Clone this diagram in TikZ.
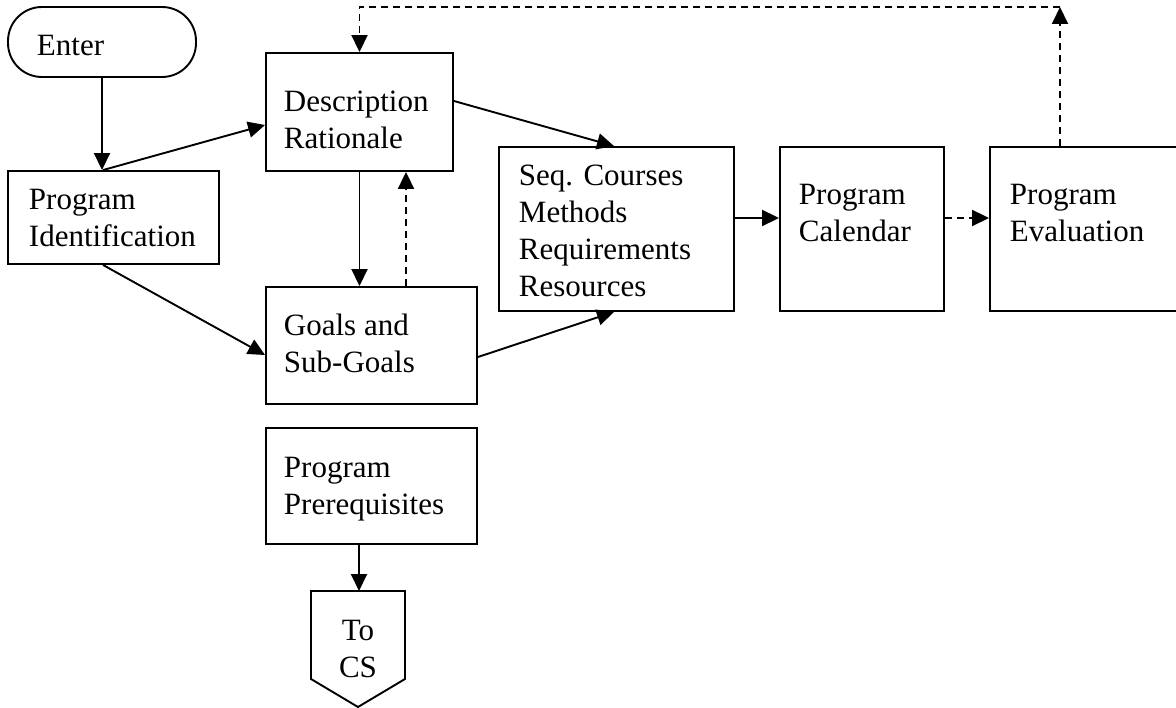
\documentclass[tikz,border=0pt]{standalone}
\usepackage{fontspec}
\setmainfont{Liberation Serif}
\usetikzlibrary{arrows.meta}
\begin{document}
\begin{tikzpicture}[x=1pt,y=-1pt,
  line width=1.9pt,
  >={Triangle[length=17pt,width=16pt]},
  box/.style={draw,rectangle,inner sep=0pt},
  txt/.style={anchor=north west,inner sep=0pt,align=left,font=\fontsize{31}{37}\selectfont},
  dsh/.style={dash pattern=on 7pt off 5pt}]
\useasboundingbox (0,0) rectangle (1176,708);
% boxes
\node[box,rounded corners=34pt,minimum width=188pt,minimum height=70pt] (enter) at (102,42) {};
\node[box,minimum width=211pt,minimum height=93pt] (pi) at (113.5,217.5) {};
\node[box,minimum width=187pt,minimum height=118pt] (dr) at (359.5,112) {};
\node[box,minimum width=211pt,minimum height=117pt] (goals) at (371.5,345.5) {};
\node[box,minimum width=235pt,minimum height=164pt] (seq) at (616.5,229) {};
\node[box,minimum width=164pt,minimum height=164pt] (cal) at (862,229) {};
\node[box,minimum width=188pt,minimum height=164pt] (eval) at (1084,229) {};
\node[box,minimum width=211pt,minimum height=116pt] (pre) at (371.5,486) {};
\draw (311,591) -- (405,591) -- (405,679) -- (358,707) -- (311,679) -- cycle;
\coordinate (tocs) at (359,591);
% texts
\node[txt] (tenter) at (36,30) {\rule{0pt}{25pt}Enter};
\node[txt] (tpi) at (28,184) {\rule{0pt}{25pt}Program\\Identification};
\node[txt] (tdr) at (283,86) {\rule{0pt}{25pt}Description\\Rationale};
\node[txt] (tgoals) at (283,310) {\rule{0pt}{25pt}Goals and\\Sub-Goals};
\node[txt] (tseq) at (518,160) {\rule{0pt}{25pt}Seq. Courses\\Methods\\Requirements\\Resources};
\node[txt] (tcal) at (798,179) {\rule{0pt}{25pt}Program\\Calendar};
\node[txt] (teval) at (1009,179) {\rule{0pt}{25pt}Program\\Evaluation};
\node[txt] (tpre) at (283,452) {\rule{0pt}{25pt}Program\\Prerequisites};
\node[txt,anchor=north,align=center] (ttocs) at (358,615) {\rule{0pt}{25pt}To\\CS};
% connectors
\coordinate (pitop) at ([xshift=-10.5pt]pi.north);
\draw[->] (enter.south) -- (enter.south |- pi.north);
\draw[->] (pitop) -- ([yshift=-13pt]dr.west);
\draw[->] ([xshift=-10.5pt]pi.south) -- ([yshift=-9.5pt]goals.west);
\draw[->] (dr.south) -- (dr.south |- goals.north);
\draw[->,dsh] ([xshift=34.5pt]goals.north) -- ([xshift=34.5pt]goals.north |- dr.south);
\draw[->] ([yshift=11pt]dr.east) -- ([xshift=-2.5pt]seq.north);
\draw[->] ([yshift=-11.5pt]goals.east) -- ([xshift=-2.5pt]seq.south);
\draw[->] ([yshift=11pt]seq.east) -- ([yshift=11pt]cal.west);
\draw[->,dsh] ([yshift=11pt]cal.east) -- ([yshift=11pt]eval.west);
\coordinate (tr) at (1060,7);
\coordinate (tl) at (359.5,7);
\draw[->,dsh] ([xshift=-24pt]eval.north) -- (tr);
\draw[->,dsh] (tr) -- (tl) -- (dr.north);
\draw[->] ([xshift=-12.5pt]pre.south) -- (tocs);
\end{tikzpicture}
\end{document}
